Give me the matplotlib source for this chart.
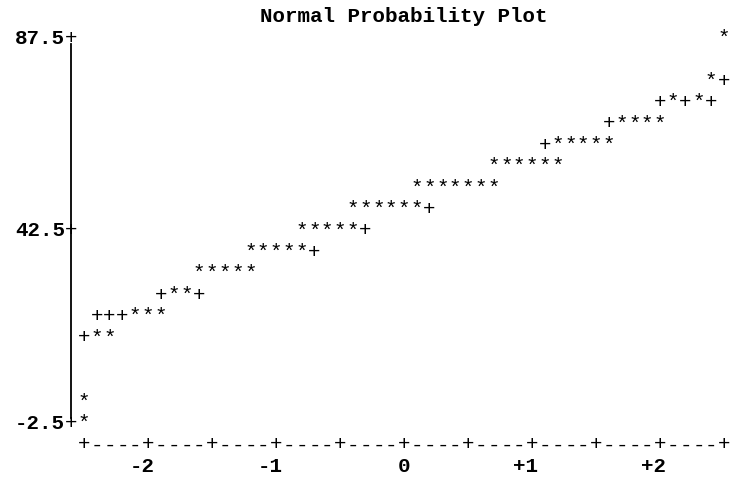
import numpy as np
import matplotlib
matplotlib.use("Agg")
import matplotlib.pyplot as plt

# ---- data (text-mode normal probability plot) ----
title = "Normal Probability Plot"
# each printed row: response level, normal quantile of first mark, marks ('*' = data, '+' = reference line)
row_levels = [87.5, 77.5, 72.5, 67.5, 62.5, 57.5, 52.5, 47.5, 42.5, 37.5, 32.5, 27.5, 22.5, 17.5, 2.5, -2.5]
row_start_q = [2.5, 2.4, 2.0, 1.6, 1.1, 0.7, 0.1, -0.4, -0.8, -1.2, -1.6, -1.9, -2.4, -2.5, -2.5, -2.5]
row_marks = ["*", "*+", "+*+*+", "+****", "+*****", "******", "*******", "******+",
             "*****+", "*****+", "*****", "+**+", "+++***", "+**", "*", "*"]
y_ticks = [87.5, 42.5, -2.5]
y_ticklabels = ["87.5", "42.5", "-2.5"]
x_ticks = [-2, -1, 0, 1, 2]
x_ticklabels = ["-2", "-1", "0", "+1", "+2"]
q_min, q_max = -2.5, 2.5

# ---- layout ----
COL = 0.1      # quantile per printed column
ROW = 5.0      # response units per printed row
FONT = "Liberation Mono"
FS = 15
BASE = 1.6     # baseline offset below row centre (data units)

fig = plt.figure(figsize=(7.35, 4.87), dpi=100)
ax = fig.add_axes([0, 0, 1, 1])
ax.set_xlim(-3.15625, 2.5859)
ax.set_ylim(-17.64, 96.145)
ax.axis("off")

def put(ch, x, y, **kw):
    ax.text(x, y - BASE, ch, ha="center", va="baseline", family=FONT,
            fontsize=FS, color="black", **kw)

# data marks
for lev, q0, marks in zip(row_levels, row_start_q, row_marks):
    for i, ch in enumerate(marks):
        put(ch, q0 + i * COL, lev)

# vertical axis
axis_x = q_min - COL
for lev, lab in zip(y_ticks, y_ticklabels):
    put("+", axis_x, lev)
    ax.text(axis_x - COL / 2, lev - BASE, lab, ha="right", va="baseline",
            family=FONT, fontsize=FS, fontweight="bold", color="black")
top, bot = max(y_ticks), min(y_ticks)
ax.plot([axis_x, axis_x], [top - 1.7, bot + 0.9], color="black", lw=1.3)

# horizontal axis
y_axis_row = bot - ROW
ncol = int(round((q_max - q_min) / COL))
for c in range(ncol + 1):
    put("+" if c % 5 == 0 else "-", q_min + c * COL, y_axis_row)
for xv, lab in zip(x_ticks, x_ticklabels):
    ax.text(xv + COL / 2, y_axis_row - ROW - BASE, lab, ha="right", va="baseline",
            family=FONT, fontsize=FS, fontweight="bold", color="black")

# title
ax.text(0.0, top + ROW - BASE, title, ha="center", va="baseline", family=FONT,
        fontsize=FS, fontweight="bold", color="black")

fig.savefig("out.png", dpi=100, facecolor="white")
